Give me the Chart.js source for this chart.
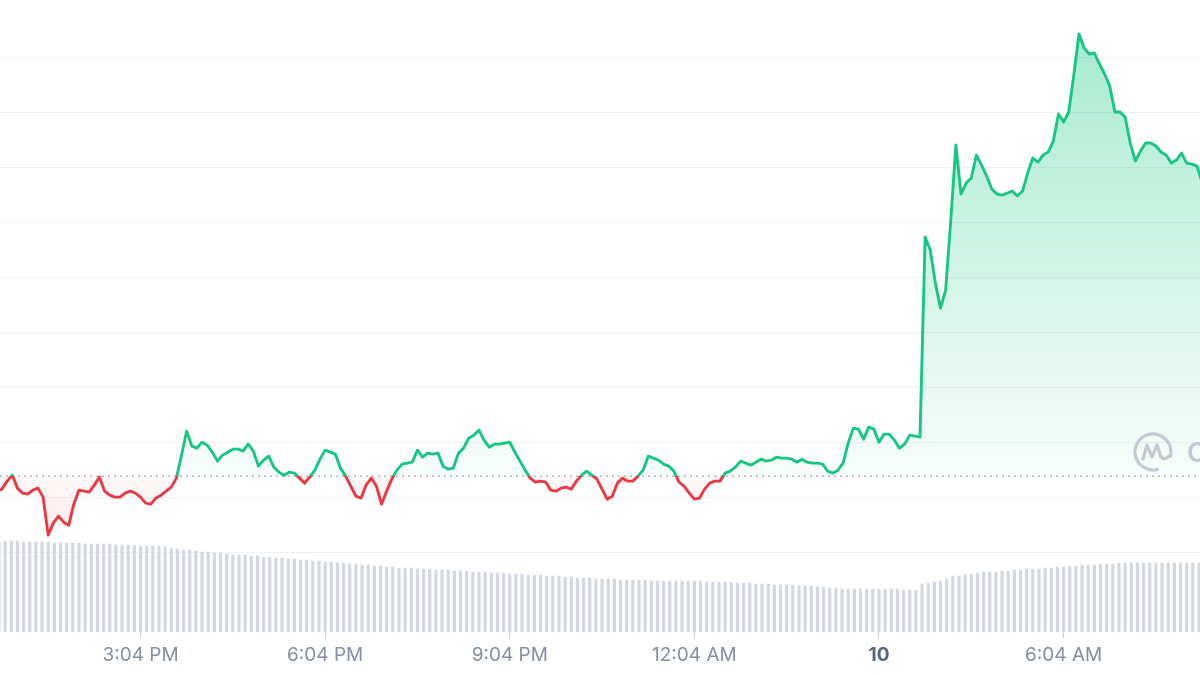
<!DOCTYPE html>
<html>
<head>
<meta charset="utf-8">
<script src="https://cdn.jsdelivr.net/npm/chart.js@4.4.1/dist/chart.umd.min.js"></script>
<style>
  html, body { margin: 0; padding: 0; background: #fff; }
  #wrap { width: 1200px; height: 675px; position: relative; }
</style>
</head>
<body>
<div id="wrap"><canvas id="chart"></canvas></div>
<script>
// price every 5 min, first sample at 12:44 PM (minutes after noon)
var priceStartMin = 44;
var priceStepMin = 5;
var prices = [
  0.3122, 0.3126, 0.3142, 0.3154, 0.3128, 0.3118, 0.3116, 0.3124, 0.3128, 0.3110,
  0.3034, 0.3058, 0.3072, 0.3060, 0.3054, 0.3096, 0.3124, 0.3122, 0.3120, 0.3134,
  0.3150, 0.3122, 0.3114, 0.3110, 0.3110, 0.3118, 0.3122, 0.3118, 0.3110, 0.3098,
  0.3096, 0.3108, 0.3114, 0.3122, 0.3130, 0.3148, 0.3194, 0.3242, 0.3212, 0.3208,
  0.3220, 0.3214, 0.3200, 0.3182, 0.3194, 0.3200, 0.3206, 0.3206, 0.3202, 0.3216,
  0.3202, 0.3172, 0.3184, 0.3192, 0.3170, 0.3160, 0.3154, 0.3160, 0.3158, 0.3148,
  0.3138, 0.3150, 0.3164, 0.3186, 0.3204, 0.3200, 0.3196, 0.3168, 0.3152, 0.3132,
  0.3112, 0.3108, 0.3134, 0.3148, 0.3132, 0.3096, 0.3122, 0.3146, 0.3164, 0.3176,
  0.3178, 0.3180, 0.3204, 0.3190, 0.3198, 0.3196, 0.3198, 0.3172, 0.3166, 0.3168,
  0.3198, 0.3208, 0.3228, 0.3234, 0.3244, 0.3224, 0.3210, 0.3216, 0.3216, 0.3218,
  0.3220, 0.3200, 0.3182, 0.3164, 0.3148, 0.3140, 0.3142, 0.3140, 0.3124, 0.3122,
  0.3128, 0.3130, 0.3126, 0.3142, 0.3154, 0.3162, 0.3154, 0.3146, 0.3126, 0.3106,
  0.3112, 0.3138, 0.3148, 0.3142, 0.3142, 0.3152, 0.3164, 0.3192, 0.3188, 0.3184,
  0.3176, 0.3172, 0.3162, 0.3140, 0.3132, 0.3118, 0.3106, 0.3108, 0.3126, 0.3138,
  0.3142, 0.3142, 0.3158, 0.3162, 0.3170, 0.3182, 0.3178, 0.3174, 0.3180, 0.3186,
  0.3182, 0.3184, 0.3190, 0.3188, 0.3188, 0.3186, 0.3180, 0.3186, 0.3180, 0.3178,
  0.3178, 0.3176, 0.3162, 0.3158, 0.3164, 0.3178, 0.3218, 0.3248, 0.3246, 0.3226,
  0.3250, 0.3246, 0.3220, 0.3236, 0.3236, 0.3224, 0.3208, 0.3216, 0.3234, 0.3232,
  0.3230, 0.3630, 0.3604, 0.3538, 0.3488, 0.3524, 0.3664, 0.3814, 0.3716, 0.3738,
  0.3748, 0.3794, 0.3774, 0.3752, 0.3726, 0.3716, 0.3714, 0.3718, 0.3722, 0.3712,
  0.3722, 0.3758, 0.3788, 0.3780, 0.3794, 0.3800, 0.3822, 0.3876, 0.3860, 0.3880,
  0.3954, 0.4036, 0.4008, 0.3996, 0.3998, 0.3976, 0.3956, 0.3932, 0.3880, 0.3880,
  0.3870, 0.3818, 0.3782, 0.3802, 0.3818, 0.3818, 0.3812, 0.3800, 0.3794, 0.3778,
  0.3784, 0.3798, 0.3778, 0.3776, 0.3772, 0.3740
];

// volume bars every 6 min, first bar at 12:46 PM
var volumeStartMin = 46;
var volumeStepMin = 6;
var volumes = [
  91, 91, 91, 91, 90, 90, 90, 90, 90, 89, 89, 89, 89, 89, 88, 88,
  88, 88, 88, 87, 87, 87, 87, 86, 86, 86, 86, 85, 84, 83, 82,
  82, 81, 80, 80, 79, 79, 78, 77, 77, 77,
  76, 76, 75, 75, 74, 74, 73, 73, 72, 72,
  71, 71, 70, 70, 69, 69, 68, 68, 67, 67, 66, 66, 65, 65, 64,
  64, 64, 63, 63, 63, 62, 62, 62, 61, 61, 61, 60, 60, 60, 59, 59,
  59, 58, 58, 58, 57, 57, 57, 56, 56, 56, 55, 55, 54, 54, 54, 53,
  53, 53, 53, 52, 52, 52, 52, 52, 51, 51, 51, 51, 51, 51, 51, 51,
  51, 50, 50, 50, 50, 49, 49, 49, 49, 48, 48, 48, 47, 47, 47, 47,
  46, 46, 46, 45, 45, 44, 44, 43, 43, 43, 43, 43, 43, 43, 43, 43, 43, 42, 42, 42,
  48, 49, 50, 51, 53, 56, 56, 57, 58, 59, 60, 60, 60, 61, 61, 62, 62, 63, 63, 63,
  64, 64, 65, 65, 66, 66, 67, 67, 67, 68, 68, 68, 69, 69, 69,
  69, 69, 69, 69, 69, 69, 69, 69, 69, 69, 69
];

var openPrice = 0.3152;
var gridPrices = [0.300, 0.311, 0.322, 0.333, 0.344, 0.355, 0.366, 0.377, 0.388, 0.399];
var tickMinutes = [184, 364, 544, 724, 904, 1084];
var tickLabels = ['3:04 PM', '6:04 PM', '9:04 PM', '12:04 AM', '10', '6:04 AM'];
var viewStartMin = 47;
var viewEndMin = 1217;

var GREEN = '#16c784';
var RED = '#ea3943';

var pricePoints = prices.map(function(p, i) {
    return {x: priceStartMin + i * priceStepMin, y: p};
});
var volumePoints = volumes.map(function(v, i) {
    return {x: volumeStartMin + i * volumeStepMin, y: v};
});

function baseStop(chart) {
    var a = chart.chartArea;
    var yb = chart.scales.y.getPixelForValue(openPrice);
    var s = (yb - a.top) / (a.bottom - a.top);
    return Math.min(1, Math.max(0, s));
}

function lineColor(context) {
    var chart = context.chart;
    if (!chart.chartArea || !chart.scales.y) return GREEN;
    var a = chart.chartArea;
    var s = baseStop(chart);
    var g = chart.ctx.createLinearGradient(0, a.top, 0, a.bottom);
    g.addColorStop(0, GREEN);
    g.addColorStop(s, GREEN);
    g.addColorStop(s, RED);
    g.addColorStop(1, RED);
    return g;
}

function fillColor(context) {
    var chart = context.chart;
    if (!chart.chartArea || !chart.scales.y) return 'rgba(0,0,0,0)';
    var a = chart.chartArea;
    var s = baseStop(chart);
    var g = chart.ctx.createLinearGradient(0, a.top, 0, a.bottom);
    g.addColorStop(0, 'rgba(22,199,132,0.40)');
    g.addColorStop(s, 'rgba(22,199,132,0.03)');
    g.addColorStop(s, 'rgba(234,57,67,0.03)');
    g.addColorStop(1, 'rgba(234,57,67,0.22)');
    return g;
}

var watermark = {
    id: 'watermark',
    afterDatasetsDraw: function(chart) {
        var c = chart.ctx;
        var a = chart.chartArea;
        var cx = a.right - 47, cy = a.top + 452;
        c.save();
        c.strokeStyle = '#c5c9d3';
        c.fillStyle = '#c5c9d3';
        c.lineWidth = 3.2;
        c.lineCap = 'round';
        c.lineJoin = 'round';
        c.beginPath();
        c.arc(cx, cy, 18, 0.42 * Math.PI, 2.08 * Math.PI);
        c.stroke();
        c.beginPath();
        c.moveTo(cx - 10, cy + 7);
        c.lineTo(cx - 6, cy - 7);
        c.lineTo(cx - 1, cy + 5);
        c.lineTo(cx + 4, cy - 7);
        c.lineTo(cx + 8, cy + 5);
        c.quadraticCurveTo(cx + 11, cy + 9, cx + 16, cy + 4);
        c.stroke();
        c.font = '600 27px Inter, "Noto Sans", sans-serif';
        c.textBaseline = 'alphabetic';
        c.fillText('CoinMarketCap', a.right - 13, cy + 10);
        c.restore();
    }
};

var ctx = document.getElementById('chart').getContext('2d');
var chart = new Chart(ctx, {
    type: 'line',
    data: {
        datasets: [
            {
                type: 'line',
                data: pricePoints,
                yAxisID: 'y',
                borderColor: lineColor,
                backgroundColor: fillColor,
                fill: {value: openPrice},
                borderWidth: 2.9,
                borderJoinStyle: 'round',
                pointRadius: 0,
                tension: 0,
                order: 1
            },
            {
                type: 'line',
                data: [{x: viewStartMin, y: openPrice}, {x: viewEndMin, y: openPrice}],
                yAxisID: 'y',
                borderColor: '#b3b8c2',
                borderWidth: 1.5,
                borderDash: [2, 4],
                pointRadius: 0,
                fill: false,
                order: 2
            },
            {
                type: 'bar',
                data: volumePoints,
                yAxisID: 'yVol',
                backgroundColor: '#d3d7e4',
                barThickness: 2.5,
                grouped: false,
                order: 3
            }
        ]
    },
    options: {
        responsive: true,
        maintainAspectRatio: false,
        animation: false,
        devicePixelRatio: 1,
        layout: {padding: {top: 0, left: 0, right: 0, bottom: 2}},
        plugins: {
            legend: {display: false},
            tooltip: {enabled: false}
        },
        scales: {
            x: {
                type: 'linear',
                min: viewStartMin,
                max: viewEndMin,
                offset: false,
                border: {display: false},
                grid: {
                    offset: false,
                    drawOnChartArea: false,
                    drawTicks: true,
                    tickLength: 6,
                    tickColor: '#c9ced8'
                },
                afterBuildTicks: function(scale) {
                    scale.ticks = tickMinutes.map(function(v) { return {value: v}; });
                },
                ticks: {
                    autoSkip: false,
                    maxRotation: 0,
                    padding: 6,
                    color: function(c) { return c.tick && c.tick.value === 904 ? '#58667e' : '#858ea0'; },
                    font: function(c) {
                        return {
                            family: 'Inter, "Noto Sans", sans-serif',
                            size: 19,
                            weight: c.tick && c.tick.value === 904 ? '700' : '400'
                        };
                    },
                    callback: function(value) {
                        var i = tickMinutes.indexOf(value);
                        return i >= 0 ? tickLabels[i] : '';
                    }
                }
            },
            y: {
                type: 'linear',
                min: 0.284,
                max: 0.4104,
                border: {display: false},
                grid: {color: '#eef0f3', drawTicks: false, lineWidth: 1},
                afterBuildTicks: function(scale) {
                    scale.ticks = gridPrices.map(function(v) { return {value: v}; });
                },
                ticks: {display: false}
            },
            yVol: {
                type: 'linear',
                min: 0,
                max: 632,
                display: false
            }
        }
    },
    plugins: [watermark]
});
</script>
</body>
</html>
